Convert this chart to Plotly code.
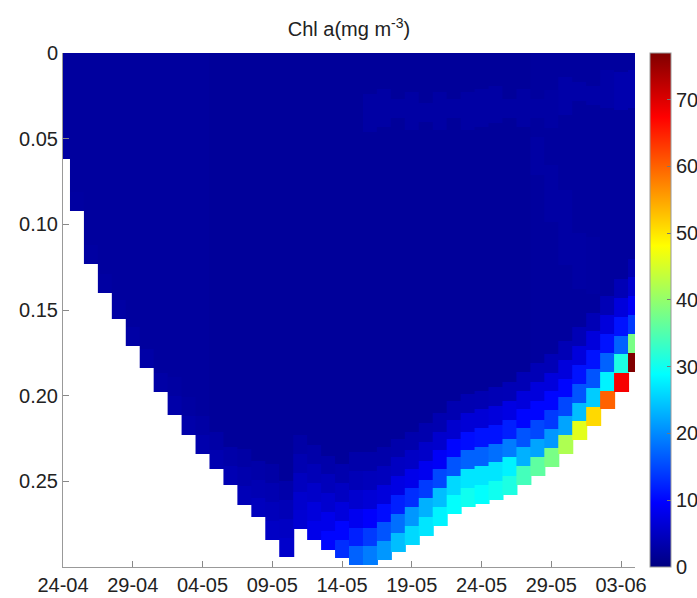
import plotly.graph_objects as go

# ---------------- data ----------------
tick_days = [0, 5, 10, 15, 20, 25, 30, 35, 40]
tick_labels = ["24-04", "29-04", "04-05", "09-05", "14-05", "19-05", "24-05", "29-05", "03-06"]
depth_ticks = [0, 0.05, 0.10, 0.15, 0.20, 0.25]
depth_tick_labels = ["0", "0.05", "0.10", "0.15", "0.20", "0.25"]

# one column per day, starting 24-04
day_index = list(range(42))

# ice thickness (depth of the ice-water interface, m) per day
ice_bottom = [0.062, 0.092, 0.123, 0.140, 0.155, 0.171, 0.184, 0.198, 0.211, 0.223,
              0.234, 0.243, 0.252, 0.264, 0.271, 0.284, 0.294, 0.278, 0.284, 0.290,
              0.295, 0.299, 0.299, 0.296, 0.291, 0.287, 0.282, 0.276, 0.269, 0.265,
              0.263, 0.261, 0.258, 0.252, 0.247, 0.2415, 0.234, 0.226, 0.2175, 0.208,
              0.198, 0.186]

# Chl a (mg m-3) in the bottom layers, listed from the ice bottom upward
chl_bottom_up = [
    [2.5], [2.5], [2.6], [2.6], [2.7], [2.8], [2.9], [2.9],
    [3.1, 2.6], [3.2, 2.6], [3.4, 2.8], [3.6, 2.9], [3.9, 3.1], [4.2, 3.4, 2.8],
    [4.7, 3.9, 3.1], [5.2, 4.5, 3.7, 2.9], [5.7, 5.1, 4.2, 3.2], [6.3, 5.8, 4.8, 3.7, 2.9],
    [8, 7, 5.5, 4.2, 3.1], [10, 8, 6, 4.5, 3.2], [13, 10, 7, 5, 3.5],
    [17, 12, 8.5, 6, 4.2, 3.2], [19, 14, 9.5, 6.5, 4.5, 3.2], [21, 16, 10.5, 7, 4.6, 3.2],
    [24, 18, 12, 7.5, 5, 3.3], [26, 21, 13, 8, 5.2, 3.4], [27, 23, 14, 8.5, 5.5, 3.5],
    [28, 24, 15, 9, 5.8, 3.6], [29, 26, 16, 10, 6, 3.7], [30, 27, 17, 10.5, 6.5, 3.7],
    [29, 27, 17, 11, 6.5, 3.8], [30, 27, 18, 11, 7, 4], [31, 28, 19, 12, 7.5, 4.1],
    [34, 23, 16, 10, 7, 4.1], [36, 22, 15, 10, 7, 4.1], [38, 21, 14, 10, 7, 4.1],
    [42, 22, 15, 10, 7, 4.1], [46, 24, 16, 11, 7, 4.1], [51, 25, 16, 11, 7, 4.1],
    [60, 28, 17, 11, 7, 4.1], [68, 31, 17, 11, 7, 4.1], [77, 38, 14, 9, 6, 3.7],
]

# interior (background) Chl a per day
chl_core = [2.3] * 11 + [2.0] * 23 + [2.3] * 8

# slightly richer patches in the upper ice: first day, last day, top depth, bottom depth, value
band_first = [22, 36, 40, 34, 35, 36, 37, 38]
band_last = [35, 41, 41, 34, 35, 36, 37, 38]
band_top = [0.024, 0.015, 0.013, 0.045, 0.060, 0.080, 0.100, 0.110]
band_bottom = [0.042, 0.033, 0.030, 0.075, 0.100, 0.125, 0.140, 0.145]
band_value = [2.7, 3.0, 3.5, 2.7, 2.7, 2.7, 2.7, 2.6]

LAYER = 0.011    # layer thickness of the sampling grid (m)
SEAM = 0.05      # small overlap between neighbouring day columns to avoid seams

jet = [[0.0, "rgb(0,0,128)"], [0.125, "rgb(0,0,255)"], [0.375, "rgb(0,255,255)"],
       [0.625, "rgb(255,255,0)"], [0.875, "rgb(255,0,0)"], [1.0, "rgb(128,0,0)"]]

fig = go.Figure()
for i in day_index:
    edges = [ice_bottom[i]]
    while edges[-1] > 1e-6:
        edges.append(max(edges[-1] - LAYER, 0.0))
    vals = []
    for k in range(len(edges) - 1):
        if k < len(chl_bottom_up[i]):
            v = chl_bottom_up[i][k]
        else:
            v = chl_core[i]
            centre = 0.5 * (edges[k] + edges[k + 1])
            for b in range(len(band_value)):
                if band_first[b] <= i <= band_last[b] and band_top[b] <= centre <= band_bottom[b]:
                    v = band_value[b]
        vals.append(v)
    fig.add_trace(go.Heatmap(
        x=[i - 0.5, i + 0.5 + SEAM],
        y=edges[::-1],
        z=[[v] for v in vals[::-1]],
        coloraxis="coloraxis",
        hovertemplate="day %{x}<br>depth %{y}<br>Chl a %{z}<extra></extra>",
    ))

font_family = "Liberation Sans, Arial, sans-serif"
fig.update_layout(
    template="none",
    width=697, height=598,
    margin=dict(l=63, r=62, t=53, b=31, autoexpand=False),
    paper_bgcolor="white", plot_bgcolor="white",
    font=dict(family=font_family, size=20, color="#222"),
    showlegend=False,
    title=dict(text="Chl a(mg m<sup>-3</sup>)", x=0.5, xanchor="center",
               xref="paper", y=1 - 29 / 598, yanchor="middle",
               font=dict(size=20, color="#222")),
    coloraxis=dict(
        colorscale=jet, cmin=0, cmax=77,
        colorbar=dict(
            x=1.026, xanchor="left", xpad=0, ypad=0,
            y=0.5, yanchor="middle", len=1, lenmode="fraction",
            thickness=21, thicknessmode="pixels",
            outlinewidth=1, outlinecolor="#999",
            tickvals=[0, 10, 20, 30, 40, 50, 60, 70],
            ticks="inside", ticklen=4, tickcolor="#777",
            tickfont=dict(size=20, color="#222"),
        ),
    ),
    xaxis=dict(
        range=[0, 41], tickvals=tick_days, ticktext=tick_labels,
        ticks="inside", ticklen=6, tickcolor="#888",
        showline=True, linecolor="#999", linewidth=1,
        showgrid=False, zeroline=False, automargin=False,
        tickfont=dict(size=20, color="#222"),
    ),
    yaxis=dict(
        range=[0.3, 0], tickvals=depth_ticks, ticktext=depth_tick_labels,
        ticks="inside", ticklen=6, tickcolor="#888",
        showline=True, linecolor="#999", linewidth=1,
        showgrid=False, zeroline=False, automargin=False,
        tickfont=dict(size=20, color="#222"),
    ),
)

fig.write_html(
    "out.html",
    config={"displayModeBar": False},
    post_script="document.body.style.margin='0';document.body.style.overflow='hidden';",
)
